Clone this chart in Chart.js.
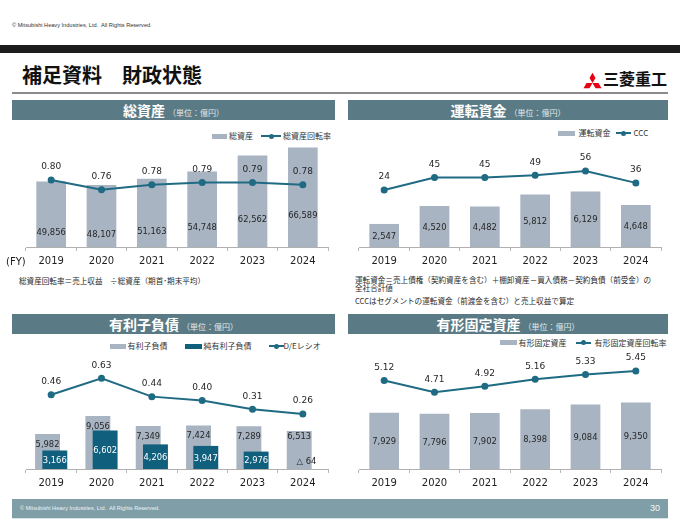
<!DOCTYPE html>
<html><head><meta charset="utf-8">
<script src="https://cdn.jsdelivr.net/npm/chart.js@4.4.1/dist/chart.umd.min.js"></script>
<style>
html,body{margin:0;padding:0;background:#fff;}
body{width:680px;height:525px;position:relative;overflow:hidden;font-family:"Noto Sans CJK JP","Noto Sans",sans-serif;color:#333;}
.a{position:absolute;white-space:nowrap;}
.copy{left:12px;top:22px;font:5.6px "Liberation Sans",Arial,sans-serif;color:#333;}
.blackbar{left:0;top:45px;width:680px;height:8px;background:#1c1c1c;}
.title{left:22px;top:61px;font-weight:bold;font-size:20px;line-height:28px;color:#111;}
.rule{left:12px;top:92px;width:656px;height:1.5px;background:#8a8a8a;}
.hdr{height:20px;background:#5a7b85;color:#fff;display:flex;justify-content:center;align-items:baseline;line-height:20px;}
.hdr b{font-size:14px;}
.hdr span{font-size:8px;color:#e3e9ec;margin-left:3px;}
.cv{position:absolute;}
.lg{position:absolute;font-size:8px;line-height:10px;color:#333;white-space:nowrap;}
.sw{position:absolute;height:5px;}
.li{position:absolute;height:2px;background:#1f6b84;}
.dot{position:absolute;width:5px;height:5px;border-radius:50%;background:#1f6b84;}
.note{position:absolute;font-size:7.6px;line-height:9px;color:#2a2a2a;white-space:nowrap;}
.footer{left:12px;top:499px;width:656px;height:19px;background:#7f9ea7;}
</style>
</head>
<body>
<div class="a copy">© Mitsubishi Heavy Industries, Ltd.&nbsp; All Rights Reserved.</div>
<div class="a blackbar"></div>
<div class="a title">補足資料　財政状態</div>
<div class="a" style="left:583px;top:70px;width:19px;height:17px;">
<svg width="19" height="17" viewBox="-9.5 -10.9 19 16.6"><g fill="#e60012">
<polygon points="0,0 -3,-5.196 0,-10.392 3,-5.196"/>
<polygon points="0,0 6,0 9,5.196 3,5.196"/>
<polygon points="0,0 -3,5.196 -9,5.196 -6,0"/></g></svg></div>
<div class="a" style="left:603px;top:67px;font-size:16px;line-height:22px;font-weight:bold;color:#111;">三菱重工</div>
<div class="a rule"></div>

<div class="a hdr" style="left:12px;top:100px;width:323px;"><b>総資産</b><span>（単位：億円）</span></div>
<div class="a hdr" style="left:348px;top:100px;width:320px;"><b>運転資金</b><span>（単位：億円）</span></div>
<div class="a hdr" style="left:12px;top:314px;width:323px;"><b>有利子負債</b><span>（単位：億円）</span></div>
<div class="a hdr" style="left:348px;top:314px;width:320px;"><b>有形固定資産</b><span>（単位：億円）</span></div>

<!-- legends -->
<div class="sw" style="left:212px;top:133.5px;width:15px;background:#a8b4c2;"></div>
<div class="lg" style="left:229px;top:131px;">総資産</div>
<div class="li" style="left:261px;top:135px;width:20px;"></div><div class="dot" style="left:268.5px;top:133.5px;"></div>
<div class="lg" style="left:283px;top:131px;">総資産回転率</div>

<div class="sw" style="left:558px;top:131px;width:17px;background:#a8b4c2;"></div>
<div class="lg" style="left:578.5px;top:128.3px;">運転資金</div>
<div class="li" style="left:616px;top:132.3px;width:15px;"></div><div class="dot" style="left:621px;top:130.8px;"></div>
<div class="lg" style="left:633.5px;top:128.3px;">CCC</div>

<div class="sw" style="left:110px;top:343.5px;width:16px;background:#a8b4c2;"></div>
<div class="lg" style="left:127.5px;top:341px;">有利子負債</div>
<div class="sw" style="left:185px;top:343.5px;width:17px;background:#0f5f7d;"></div>
<div class="lg" style="left:203.5px;top:341px;">純有利子負債</div>
<div class="li" style="left:269px;top:345px;width:15px;"></div><div class="dot" style="left:274px;top:343.5px;"></div>
<div class="lg" style="left:283.5px;top:341px;">D/Eレシオ</div>

<div class="sw" style="left:500px;top:340.2px;width:17px;background:#a8b4c2;"></div>
<div class="lg" style="left:518.5px;top:337.7px;">有形固定資産</div>
<div class="li" style="left:576px;top:341.7px;width:15px;"></div><div class="dot" style="left:581px;top:340.2px;"></div>
<div class="lg" style="left:594.5px;top:337.7px;">有形固定資産回転率</div>

<!-- charts -->
<div class="cv" style="left:22px;top:128px;width:310px;height:141px;"><canvas id="c1"></canvas></div>
<div class="cv" style="left:355px;top:128px;width:310px;height:141px;"><canvas id="c2"></canvas></div>
<div class="cv" style="left:22px;top:343px;width:310px;height:148px;"><canvas id="c3"></canvas></div>
<div class="cv" style="left:355px;top:343px;width:310px;height:148px;"><canvas id="c4"></canvas></div>

<div class="a" style="left:6px;top:255px;font:10px 'DejaVu Sans';line-height:14px;color:#222;">(FY)</div>
<div class="note" style="left:19px;top:275.5px;">総資産回転率＝売上収益　÷総資産（期首･期末平均）</div>
<div class="note" style="left:355px;top:274.8px;">運転資金＝売上債権（契約資産を含む）＋棚卸資産－買入債務－契約負債（前受金）の</div>
<div class="note" style="left:355px;top:283px;">全社合計値</div>
<div class="note" style="left:355px;top:296.2px;">CCCはセグメントの運転資金（前渡金を含む）と売上収益で算定</div>

<div class="a footer"></div>
<div class="a" style="left:12px;top:518px;width:656px;height:1px;background:#d3e3e8;"></div>
<div class="a" style="left:20px;top:505px;font:5.6px 'Liberation Sans',Arial,sans-serif;color:#eef3f5;">© Mitsubishi Heavy Industries, Ltd.&nbsp; All Rights Reserved.</div>
<div class="a" style="left:650px;top:503px;font:9px 'Liberation Sans',Arial,sans-serif;color:#f4f7f8;">30</div>

<script>
const years = ['2019','2020','2021','2022','2023','2024'];
const totalAssets = [49856,48107,51163,54748,62562,66589];
const assetTurnover = [0.80,0.76,0.78,0.79,0.79,0.78];
const workingCapital = [2547,4520,4482,5812,6129,4648];
const ccc = [24,45,45,49,56,36];
const interestDebt = [5982,9056,7349,7424,7289,6513];
const netInterestDebt = [3166,6602,4206,3947,2976,-64];
const deRatio = [0.46,0.63,0.44,0.40,0.31,0.26];
const ppe = [7929,7796,7902,8398,9084,9350];
const ppeTurnover = [5.12,4.71,4.92,5.16,5.33,5.45];

const GRAY = '#a8b4c2', TEAL = '#0f5f7d', LINE = '#1f6b84', TXT = '#262626';

const shiftBars = {
  id: 'shiftBars',
  afterDatasetsUpdate(chart) {
    const w = chart.scales.x.width / chart.data.labels.length;
    chart.data.datasets.forEach((ds, di) => {
      if (!ds.shift) return;
      chart.getDatasetMeta(di).data.forEach(el => { el.x += ds.shift * w; });
    });
  }
};

const valueLabels = {
  id: 'valueLabels',
  afterDatasetsDraw(chart) {
    const ctx = chart.ctx;
    ctx.save();
    ctx.textAlign = 'center';
    ctx.textBaseline = 'middle';
    chart.data.datasets.forEach((ds, di) => {
      if (!ds.lbl) return;
      const meta = chart.getDatasetMeta(di);
      meta.data.forEach((el, i) => {
        const v = ds.data[i];
        let txt, y, color = ds.lblColor || TXT;
        if (ds.type === 'line') txt = ds.dec != null ? v.toFixed(ds.dec) : String(v);
        else txt = v < 0 ? '△ ' + Math.abs(v).toLocaleString('en-US') : v.toLocaleString('en-US');
        if (ds.lbl === 'above') y = el.y - 13;
        else if (ds.lbl === 'center') {
          if (v < 0) { y = el.base - 7.5; color = TXT; }
          else y = (el.y + el.base) / 2 + 1;
        } else if (ds.lbl === 'top') {
          const pair = ds.pair != null ? chart.data.datasets[ds.pair].data[i] : 1;
          y = el.y + (pair <= 0 ? 6 : 10.7);
        }
        ctx.font = ds.type === 'line' ? '9px "DejaVu Sans"' : '8.4px "DejaVu Sans"';
        ctx.fillStyle = color;
        ctx.fillText(txt, el.x, y);
      });
    });
    ctx.restore();
  }
};

function lineDs(label, data, dec) {
  return { type: 'line', label, data, yAxisID: 'y1', order: 0, borderColor: LINE, backgroundColor: LINE,
    borderWidth: 2, pointRadius: 3.5, pointBackgroundColor: LINE, pointBorderColor: LINE, pointBorderWidth: 0,
    tension: 0, lbl: 'above', dec };
}
function barDs(label, data, extra) {
  return Object.assign({ type: 'bar', label, data, yAxisID: 'y', order: 2, backgroundColor: GRAY,
    categoryPercentage: 1, barPercentage: 0.59, lbl: 'center' }, extra || {});
}

function makeChart(id, datasets, yMin, yMax, y1Min, y1Max) {
  return new Chart(document.getElementById(id), {
    data: { labels: years, datasets },
    options: {
      responsive: true, maintainAspectRatio: false, animation: false, events: [],
      layout: { padding: { top: 12, left: 0, right: 0, bottom: 0 } },
      plugins: { legend: { display: false }, tooltip: { enabled: false } },
      scales: {
        x: {
          offset: true,
          grid: { offset: true, drawOnChartArea: false, tickLength: 4, color: '#b8b8b8' },
          border: { display: true, color: '#b0b0b0', width: 1 },
          ticks: { font: { family: 'DejaVu Sans', size: 10 }, color: '#1e1e1e', padding: 4, maxRotation: 0, autoSkip: false },
          afterFit(a) { a.height = 22; }
        },
        y: { display: false, min: yMin, max: yMax },
        y1: { display: false, min: y1Min, max: y1Max }
      }
    },
    plugins: [shiftBars, valueLabels]
  });
}

makeChart('c1', [barDs('総資産', totalAssets), lineDs('総資産回転率', assetTurnover, 2)],
  17625, 70231, 0.5231, 0.9653);
makeChart('c2', [barDs('運転資金', workingCapital), lineDs('CCC', ccc, null)],
  0, 11823, -71.96, 108.2);
makeChart('c3', [
  barDs('有利子負債', interestDebt, { grouped: false, barPercentage: 0.495, shift: -0.072, lbl: 'top', pair: 1, order: 2 }),
  barDs('純有利子負債', netInterestDebt, { grouped: false, barPercentage: 0.495, shift: 0.072, backgroundColor: TEAL, lblColor: '#ffffff', order: 1 }),
  lineDs('D/Eレシオ', deRatio, 2)
], 0, 19487, -0.310, 0.8715);
makeChart('c4', [barDs('有形固定資産', ppe), lineDs('有形固定資産回転率', ppeTurnover, 2)],
  0, 16056, 2.047, 6.005);
</script>
</body></html>
